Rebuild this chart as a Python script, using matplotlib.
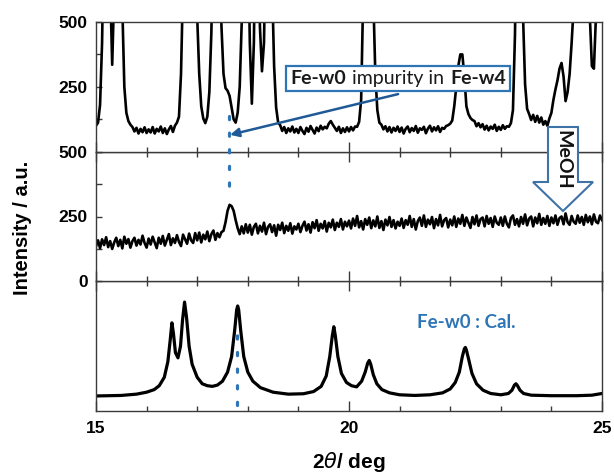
import numpy as np
import matplotlib
matplotlib.use("Agg")
import matplotlib.pyplot as plt
import matplotlib.transforms as mtransforms
from matplotlib.offsetbox import TextArea, HPacker, AnnotationBbox
from matplotlib.patches import Polygon
from matplotlib.lines import Line2D
from matplotlib.ticker import MultipleLocator

plt.rcParams['font.family'] = ['Liberation Sans', 'DejaVu Sans']

# ---------------- data ----------------
two_theta = np.round(np.linspace(15.0, 25.0, 251), 2)   # 0.04 deg sampling

# Fe-w4 (as measured), counts
fe_w4 = [
    100, 112, 180, 420, 900, 1300, 1500, 650, 335, 620, 1200, 1500, 1200, 560, 250, 150, 118, 104, 95, 78, 92, 70, 88, 75, 94,
    72, 86, 74, 95, 70, 88, 78, 97, 72, 90, 68, 86, 99, 76, 100, 112, 135, 300, 650, 1100, 1500, 1400, 1200, 1000, 800,
    520, 300, 175, 128, 110, 135, 230, 460, 900, 1300, 1200, 800, 480, 300, 245, 235, 215, 170, 125, 112, 150, 250, 500, 900, 1300,
    900, 420, 185, 420, 1000, 800, 480, 310, 420, 900, 1400, 1100, 650, 330, 170, 112, 102, 80, 95, 72, 90, 78, 97, 74, 88,
    72, 95, 80, 68, 92, 77, 99, 84, 70, 93, 79, 100, 86, 96, 90, 108, 118, 104, 92, 80, 96, 72, 90, 76, 94,
    78, 95, 82, 97, 96, 115, 200, 600, 1300, 1500, 1400, 1000, 600, 300, 160, 112, 104, 86, 98, 78, 95, 74, 92, 80, 97,
    76, 93, 70, 88, 97, 75, 91, 80, 99, 73, 90, 84, 96, 71, 89, 100, 78, 94, 82, 98, 76, 92, 88, 99, 102,
    108, 120, 175, 250, 330, 375, 375, 290, 175, 145, 130, 122, 118, 98, 110, 94, 106, 85, 100, 82, 97, 88, 104, 80, 96,
    84, 102, 88, 98, 96, 110, 160, 450, 1000, 1400, 900, 520, 260, 165, 145, 122, 142, 115, 138, 112, 132, 104, 118, 100, 128,
    150, 200, 240, 275, 320, 342, 290, 195, 230, 300, 420, 560, 900, 1300, 1500, 1400, 1200, 1100, 900, 520, 330, 320, 520, 900, 1300,
    1500,
]

# after MeOH treatment, counts
meoh = [
    135, 158, 128, 162, 140, 170, 132, 155, 125, 150, 168, 136, 160, 127, 172, 145, 163, 130, 155, 168, 138, 160, 142, 176, 148,
    130, 165, 142, 172, 150, 128, 168, 145, 175, 138, 160, 182, 140, 166, 148, 178, 152, 136, 180, 162, 145, 184, 158, 148, 186,
    158, 188, 150, 180, 162, 192, 155, 182, 196, 160, 186, 170, 190, 195, 228, 272, 295, 290, 272, 236, 205, 182, 212, 185, 220,
    188, 218, 180, 210, 222, 185, 214, 192, 226, 182, 210, 220, 190, 216, 176, 218, 198, 226, 186, 214, 195, 224, 184, 212, 200,
    222, 190, 214, 230, 196, 220, 188, 228, 205, 236, 195, 222, 204, 232, 192, 226, 208, 238, 198, 226, 210, 240, 200, 230, 212,
    234, 204, 242, 214, 252, 208, 232, 200, 240, 218, 246, 205, 235, 212, 250, 206, 232, 198, 238, 216, 248, 210, 236, 204, 230,
    214, 242, 206, 236, 218, 252, 210, 240, 200, 232, 246, 214, 254, 210, 238, 220, 248, 205, 240, 216, 256, 212, 236, 244, 208,
    238, 216, 250, 210, 242, 222, 256, 214, 246, 226, 206, 248, 220, 254, 214, 240, 246, 212, 252, 222, 244, 210, 250, 226, 218,
    246, 214, 250, 222, 208, 244, 254, 218, 240, 212, 248, 222, 258, 216, 242, 250, 212, 246, 224, 260, 218, 244, 222, 252, 214,
    246, 224, 254, 218, 244, 250, 220, 262, 228, 218, 252, 230, 222, 254, 226, 248, 218, 256, 228, 250, 220, 258, 230, 224, 254,
    236,
]

# Fe-w0 calculated pattern (arbitrary units)
cal_x = [15.0, 15.5, 15.8, 16.0, 16.15, 16.25, 16.35, 16.42, 16.47, 16.5, 16.53, 16.57, 16.62, 16.67, 16.71, 16.75,
         16.79, 16.84, 16.9, 17.0, 17.1, 17.2, 17.3, 17.4, 17.5, 17.6, 17.68, 17.74, 17.78, 17.8, 17.82, 17.86,
         17.92, 18.0, 18.1, 18.25, 18.5, 18.8, 19.1, 19.3, 19.45, 19.55, 19.62, 19.67, 19.7, 19.73, 19.78, 19.85,
         19.95, 20.05, 20.15, 20.25, 20.32, 20.37, 20.4, 20.43, 20.48, 20.55, 20.65, 20.8, 21.0, 21.3, 21.6, 21.85,
         22.0, 22.1, 22.18, 22.24, 22.28, 22.3, 22.32, 22.37, 22.43, 22.52, 22.65, 22.8, 23.0, 23.15, 23.22, 23.27,
         23.3, 23.33, 23.38, 23.45, 23.6, 24.0, 24.5, 24.8, 25.0]
cal_y = [11.6, 12.0, 13.0, 14.5, 16.5, 19.5, 26, 38, 56, 68, 60, 45, 41, 50, 70, 84,
         72, 50, 36, 26, 21, 19.5, 19, 20, 23, 30, 42, 62, 78, 81, 78, 62,
         42, 30, 23, 18, 14.5, 13, 13.3, 15, 19, 27, 42, 58, 65, 58, 42, 29,
         22, 19.5, 18.6, 23, 30, 37, 39, 36, 28, 21, 16.5, 14, 12.5, 12, 12.5, 14,
         17, 22, 30, 42, 48, 49, 47, 39, 29, 21, 16, 13.5, 12.5, 13.5, 16, 20,
         21, 19.5, 16, 13.5, 12.2, 11.8, 11.8, 12.2, 13.5]

impurity_pos_obs = 17.63
impurity_pos_cal = 17.79

# ---------------- figure ----------------
W, H = 614, 474
fig = plt.figure(figsize=(W / 100, H / 100), dpi=100)

left, right = 96 / W, 602 / W
top_px, bot_px = 22, 411
ph = (bot_px - top_px) / 3 / H
b0 = 1 - bot_px / H
ax_bot = fig.add_axes([left, b0, right - left, ph])
ax_mid = fig.add_axes([left, b0 + ph, right - left, ph])
ax_top = fig.add_axes([left, b0 + 2 * ph, right - left, ph])

spine_col = '#3a3a3a'
lw_trace = 1.9
tick_font = dict(size=12.5, weight='bold')

ax_top.plot(two_theta, fe_w4, color='black', lw=lw_trace, solid_joinstyle='round')
ax_mid.plot(two_theta, meoh, color='black', lw=lw_trace, solid_joinstyle='round')
ax_bot.plot(cal_x, cal_y, color='black', lw=2.3, solid_joinstyle='round')

for ax in (ax_top, ax_mid, ax_bot):
    ax.set_xlim(15, 25)
    ax.xaxis.set_major_locator(MultipleLocator(5))
    ax.xaxis.set_minor_locator(MultipleLocator(1))
    for s in ax.spines.values():
        s.set_color(spine_col)
        s.set_linewidth(1.0)
    ax.tick_params(axis='x', which='major', direction='in', length=7, width=1.0, color=spine_col)
    ax.tick_params(axis='x', which='minor', direction='in', length=3.5, width=1.0, color=spine_col)

for ax in (ax_top, ax_mid):
    ax.set_ylim(0, 500)
    ax.yaxis.set_major_locator(MultipleLocator(250))
    ax.yaxis.set_minor_locator(MultipleLocator(125))
    ax.tick_params(axis='y', which='both', direction='in', length=4.5, width=1.0, color=spine_col, pad=6)

ax_top.tick_params(axis='x', which='both', top=False, bottom=True, labelbottom=False)
ax_mid.tick_params(axis='x', which='both', top=True, bottom=True, labelbottom=False)
ax_bot.tick_params(axis='x', which='both', top=True, bottom=True, labelbottom=True, pad=7)

ax_top.set_yticks([0, 250, 500])
ax_top.set_yticklabels(['', '250', '500'], fontdict=tick_font)
ax_mid.set_yticks([0, 250, 500])
ax_mid.set_yticklabels(['0', '250', '500'], fontdict=tick_font)

ax_bot.set_ylim(0, 100)
ax_bot.set_yticks([])
ax_bot.set_xticks([15, 20, 25])
ax_bot.set_xticklabels(['15', '20', '25'], fontdict=tick_font)

# axis labels
fig.text(23 / W, 1 - 228 / H, 'Intensity / a.u.', rotation=90, ha='center', va='center',
         size=14.5, weight='bold')
fig.text(349 / W, 1 - 462 / H, r'2$\theta$/ deg', ha='center', va='center', size=15, weight='bold')

blue = '#2e75b6'
dark_blue = '#1f5a96'

# dotted guide lines
tr = mtransforms.blended_transform_factory(ax_top.transData, fig.transFigure)
fig.add_artist(Line2D([impurity_pos_obs, impurity_pos_obs], [1 - 116 / H, 1 - 199 / H], transform=tr,
                      color=blue, lw=2.3, linestyle=(0, (1, 4.2)), dash_capstyle='round', zorder=5))
ax_bot.plot([impurity_pos_cal, impurity_pos_cal], [4.5, 65], color=blue, lw=2.3,
            linestyle=(0, (1, 4.2)), dash_capstyle='round', zorder=5)

# arrow to impurity peak
ax_top.annotate('', xy=(17.65, 65), xytext=(20.97, 222), xycoords='data',
                arrowprops=dict(arrowstyle='-|>', color=dark_blue, lw=1.8, mutation_scale=13,
                                shrinkA=0, shrinkB=0),
                annotation_clip=False, zorder=6)

# annotation box with mixed weights
tp_b = dict(family='Lato', size=14, weight='bold', color='#1a1a1a')
tp_n = dict(family='Lato', size=14, weight='regular', color='#1a1a1a')
pack = HPacker(children=[TextArea('Fe-w0', textprops=tp_b),
                         TextArea('impurity in', textprops=tp_n),
                         TextArea('Fe-w4', textprops=tp_b)],
               align='baseline', pad=0, sep=4.5)
ab = AnnotationBbox(pack, (20.97, 282), xycoords='data', frameon=True, pad=0.3,
                    bboxprops=dict(edgecolor=blue, facecolor='white', lw=1.6, boxstyle='square,pad=0.3'),
                    annotation_clip=False, zorder=7)
ax_top.add_artist(ab)

# MeOH hollow arrow
verts_px = [(548, 127), (578, 127), (578, 182), (593, 182), (563, 211), (533, 182), (548, 182)]
verts = [(x / W, 1 - y / H) for x, y in verts_px]
fig.add_artist(Polygon(verts, closed=True, transform=fig.transFigure, facecolor='white',
                       edgecolor='#3f72a6', lw=1.5, zorder=8))
fig.text(563 / W, 1 - 160 / H, 'MeOH', rotation=-90, ha='center', va='center',
         family='Lato', size=14, weight='bold', color='#111111', zorder=9)

# calculated label
ax_bot.text(22.31, 68, 'Fe-w0 : Cal.', ha='center', va='center', color=blue,
            family='Lato', size=13.5, weight='bold')

fig.savefig('out.png', dpi=100)
